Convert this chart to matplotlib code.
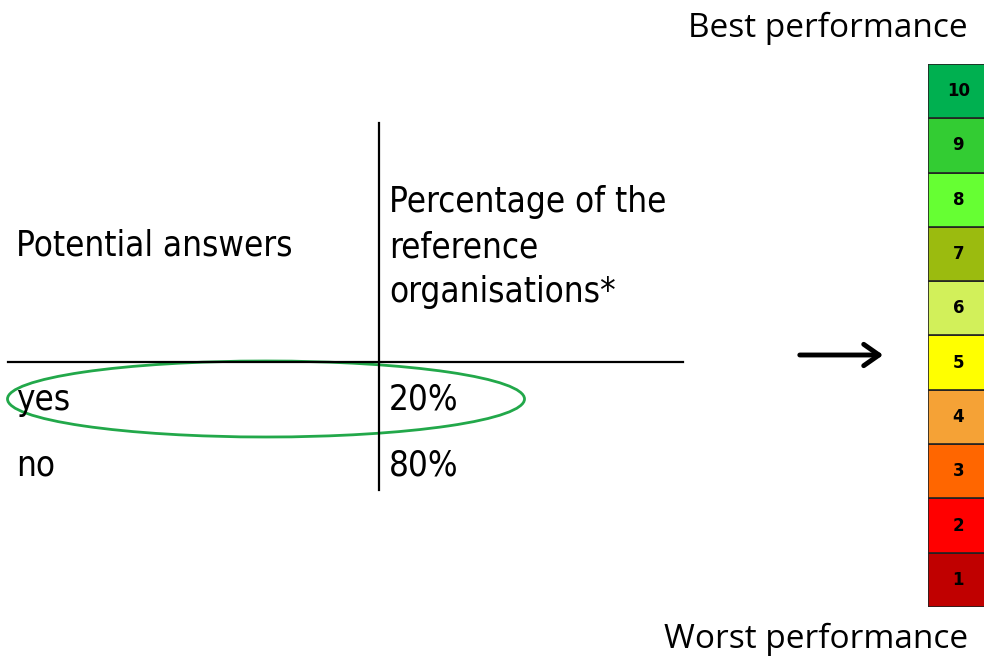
import matplotlib
matplotlib.use('Agg')
import matplotlib.pyplot as plt
from matplotlib.patches import Ellipse

# data
answers = ['yes', 'no']
percentages = [20, 80]
levels = [1, 2, 3, 4, 5, 6, 7, 8, 9, 10]
level_colors = ['#C00000', '#FF0000', '#FF6600', '#F5A236', '#FFFF00',
                '#D2F05A', '#9BBB0F', '#66FF33', '#33CC33', '#00B050']

W, H = 984, 659
fig = plt.figure(figsize=(W / 100, H / 100), dpi=100)

# main canvas in pixel units
ax = fig.add_axes([0, 0, 1, 1])
ax.set_xlim(0, W)
ax.set_ylim(H, 0)
ax.axis('off')

tkw = dict(fontsize=25, family=['DejaVu Sans'], fontstretch='condensed', va='center')

# table lines
ax.plot([379, 379], [123, 490], color='black', lw=1.6)
ax.plot([8, 683], [362, 362], color='black', lw=1.6)

ax.text(16, 245, 'Potential answers', **tkw)
ax.text(389, 247, 'Percentage of the\nreference\norganisations*', linespacing=1.42, **tkw)

row_y = [400, 465]
for ans, pct, y in zip(answers, percentages, row_y):
    ax.text(16, y, ans, **tkw)
    ax.text(389, y, f'{pct}%', **tkw)

# highlight ellipse round the "yes" row
ax.add_patch(Ellipse((266, 399), 517, 76, fill=False, edgecolor='#22A84A', lw=2))

# arrow pointing at the level
ax.annotate('', xy=(886, 355), xytext=(797, 355),
            arrowprops=dict(arrowstyle='->,head_length=0.5,head_width=0.35',
                            color='black', lw=3.5, mutation_scale=22, capstyle='round'))

lkw = dict(fontsize=24, ha='right', va='center', family=['Open Sans', 'DejaVu Sans'])
ax.text(968, 28, 'Best performance', **lkw)
ax.text(968, 639, 'Worst performance', **lkw)

# performance scale
sax = fig.add_axes([928 / W, (H - 607) / H, 80 / W, 543 / H])
sax.barh(levels, 1, height=1, left=0, color=level_colors, edgecolor='#222222', lw=1.2)
sax.set_ylim(0.5, 10.5)
sax.set_xlim(0, 1)
sax.axis('off')
for lv in levels:
    sax.text(0.38, lv, str(lv), fontsize=12, fontweight='bold', ha='center', va='center')

fig.savefig('out.png', dpi=100)
